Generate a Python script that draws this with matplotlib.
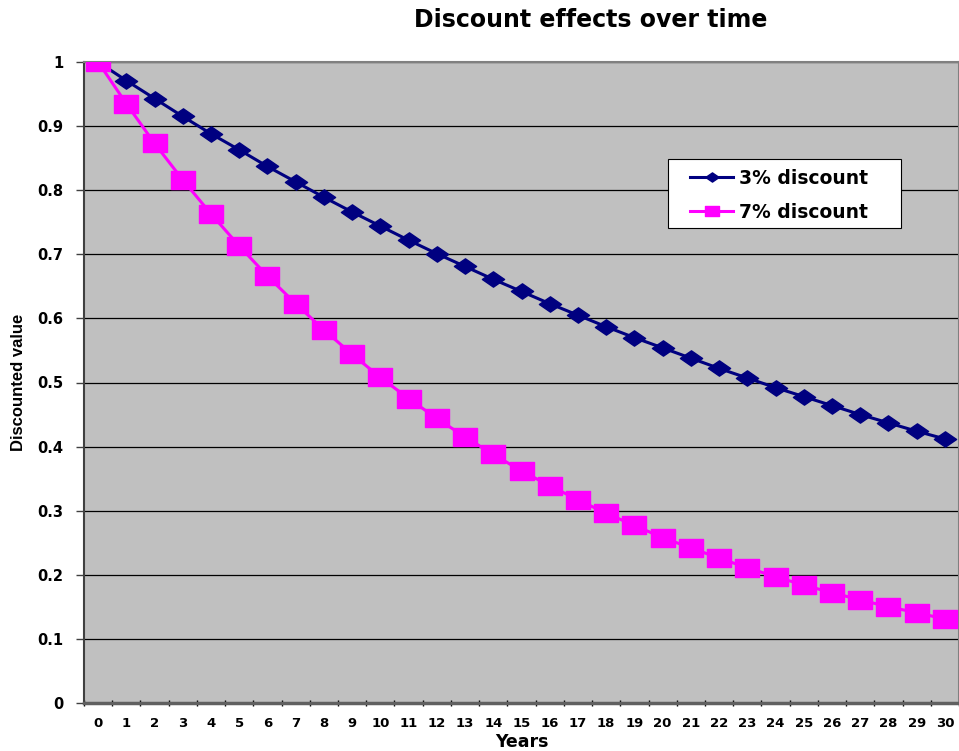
import numpy as np
import matplotlib.pyplot as plt
from matplotlib.path import Path
from matplotlib.patches import Rectangle

years = list(range(31))
disc_3 = [1.000, 0.971, 0.943, 0.915, 0.888, 0.863, 0.837, 0.813, 0.789, 0.766,
          0.744, 0.722, 0.701, 0.681, 0.661, 0.642, 0.623, 0.605, 0.587, 0.570,
          0.554, 0.538, 0.522, 0.507, 0.492, 0.478, 0.464, 0.450, 0.437, 0.424,
          0.412]
disc_7 = [1.000, 0.935, 0.873, 0.816, 0.763, 0.713, 0.666, 0.623, 0.582, 0.544,
          0.508, 0.475, 0.444, 0.415, 0.388, 0.362, 0.339, 0.317, 0.296, 0.277,
          0.258, 0.242, 0.226, 0.211, 0.197, 0.184, 0.172, 0.161, 0.150, 0.141,
          0.131]
yticks = [0, 0.1, 0.2, 0.3, 0.4, 0.5, 0.6, 0.7, 0.8, 0.9, 1]
ylabels = ['0', '0.1', '0.2', '0.3', '0.4', '0.5', '0.6', '0.7', '0.8', '0.9', '1']

plt.rcParams['font.family'] = ['DejaVu Sans']

# wide markers (the chart is drawn a bit stretched sideways)
wide_sq = Path([(-1.4, -1), (1.4, -1), (1.4, 1), (-1.4, 1), (-1.4, -1)],
               [1, 2, 2, 2, 79])
wide_dm = Path([(-1.45, 0), (0, -1), (1.45, 0), (0, 1), (-1.45, 0)],
               [1, 2, 2, 2, 79])

fig = plt.figure(figsize=(9.59, 7.51), dpi=100)
ax = fig.add_axes([84/959, 48/751, 1 - 84/959, 641/751])
ax.set_facecolor('#C0C0C0')

ax.plot(years, disc_3, color='#000080', lw=2.2, marker=wide_dm, ms=16,
        label='3% discount', zorder=3)
ax.plot(years, disc_7, color='#FF00FF', lw=2.2, marker=wide_sq, ms=17.5,
        label='7% discount', zorder=4)

ax.set_xlim(-0.5, 30.5)
ax.set_ylim(0, 1)
ax.set_yticks(yticks)
ax.set_yticklabels(ylabels, fontsize=10.5, fontweight='bold')
ax.yaxis.grid(True, color='black', lw=0.9)
ax.set_axisbelow(True)

# category labels sit between the tick marks
ax.set_xticks(np.arange(-0.5, 31, 1))
ax.set_xticklabels([])
ax.set_xticks(years, minor=True)
ax.set_xticklabels([str(y) for y in years], minor=True, fontsize=9.5,
                   fontweight='bold')
ax.tick_params(axis='x', which='major', direction='inout', length=5,
               width=1, color='black')
ax.tick_params(axis='x', which='minor', length=0, pad=10)
ax.tick_params(axis='y', direction='out', length=6, width=1, color='#404040',
               pad=9)

for s in ['top', 'right']:
    ax.spines[s].set_color('#808080')
    ax.spines[s].set_linewidth(1.5)
ax.spines['left'].set_color('#404040')
ax.spines['left'].set_linewidth(1.5)
ax.spines['bottom'].set_color('#606060')
ax.spines['bottom'].set_linewidth(2.5)

ax.set_ylabel('Discounted value', fontsize=12, fontweight='bold',
              family=['Liberation Sans Narrow', 'Liberation Sans'], labelpad=8)
fig.text(522/959, 1 - 742/751, 'Years', ha='center', va='center',
         fontsize=12.5, fontweight='bold')
fig.text(0.616, 1 - 20/751, 'Discount effects over time', ha='center',
         va='center', fontsize=17, fontweight='bold')

# legend box drawn separately so the padding can differ per side
box = Rectangle((668/959, 1 - 228/751), 233/959, 69/751,
                transform=fig.transFigure, facecolor='white',
                edgecolor='black', lw=0.8, zorder=4.8)
ax.add_patch(box)
box.set_clip_on(False)
leg = ax.legend(loc='center left', bbox_to_anchor=(690/959, 1 - 195/751),
                bbox_transform=fig.transFigure, borderaxespad=0,
                frameon=False, prop={'weight': 'bold', 'size': 13.5},
                handlelength=2.3, handletextpad=0.3, markerscale=0.6,
                borderpad=0, labelspacing=0.8)

fig.savefig('out.png', dpi=100)
